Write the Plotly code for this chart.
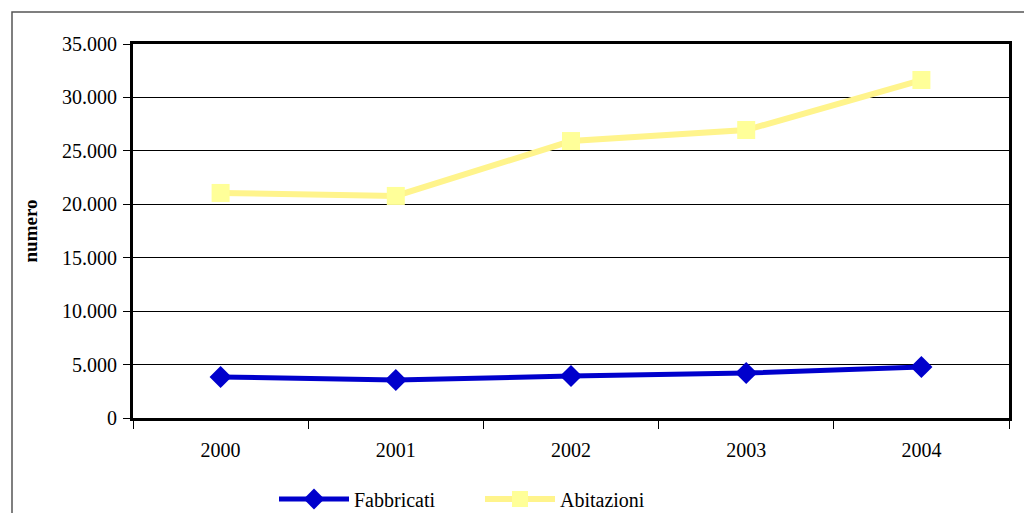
import plotly.graph_objects as go

years = ["2000", "2001", "2002", "2003", "2004"]
fabbricati = [3840, 3560, 3930, 4210, 4770]
abitazioni = [21060, 20780, 25920, 26950, 31630]

FONT = "Liberation Serif"
BLUE = "#0000CC"
YELLOW_LINE = "#FFF48C"
YELLOW_MARK = "#FFFF99"

fig = go.Figure()
fig.add_trace(go.Scatter(
    x=years, y=fabbricati, name="Fabbricati", mode="lines+markers",
    line=dict(color=BLUE, width=5),
    marker=dict(symbol="diamond", size=17, color=BLUE),
))
fig.add_trace(go.Scatter(
    x=years, y=abitazioni, name="Abitazioni", mode="lines+markers",
    line=dict(color=YELLOW_LINE, width=6),
    marker=dict(symbol="square", size=18, color=YELLOW_MARK),
))

W, H = 1024, 513
L, R, T, B = 133, 15, 44, 95
pw, ph = W - L - R, H - T - B

def px_x(x):
    return (x - L) / pw

def px_y(y):
    return (H - B - y) / ph

# outer chart-area frame
fig.add_shape(type="rect", xref="paper", yref="paper",
              x0=px_x(12), x1=px_x(1040), y0=px_y(540), y1=px_y(12),
              line=dict(color="#555555", width=1.5), layer="below")

fig.update_layout(
    width=W, height=H,
    margin=dict(l=L, r=R, t=T, b=B, pad=0, autoexpand=False),
    paper_bgcolor="white", plot_bgcolor="white",
    separators=",.",
    font=dict(family=FONT, size=20, color="black"),
    showlegend=True,
    legend=dict(orientation="h", xref="container", yref="container",
                x=274 / W, y=1 - 499 / H,
                xanchor="left", yanchor="middle",
                font=dict(family=FONT, size=20, color="black"),
                itemwidth=70, entrywidth=121, entrywidthmode="pixels",
                bgcolor="rgba(0,0,0,0)"),
    xaxis=dict(
        type="category", range=[-0.5, 4.5],
        tickson="boundaries", ticks="outside", ticklen=8, tickwidth=1,
        tickcolor="black", showgrid=False,
        showline=True, linecolor="black", linewidth=3, mirror=True,
        tickfont=dict(family=FONT, size=20), ticklabelstandoff=12,
    ),
    yaxis=dict(
        range=[0, 35000], dtick=5000, tickformat=",.0f",
        ticks="outside", ticklen=7, tickwidth=1, tickcolor="black",
        showgrid=True, gridcolor="black", gridwidth=1,
        showline=True, linecolor="black", linewidth=3, mirror=True,
        zeroline=False,
        tickfont=dict(family=FONT, size=20), ticklabelstandoff=2,
        title=dict(text="<b>numero</b>", font=dict(family=FONT, size=19),
                   standoff=20),
    ),
)

fig.write_html("out.html")
